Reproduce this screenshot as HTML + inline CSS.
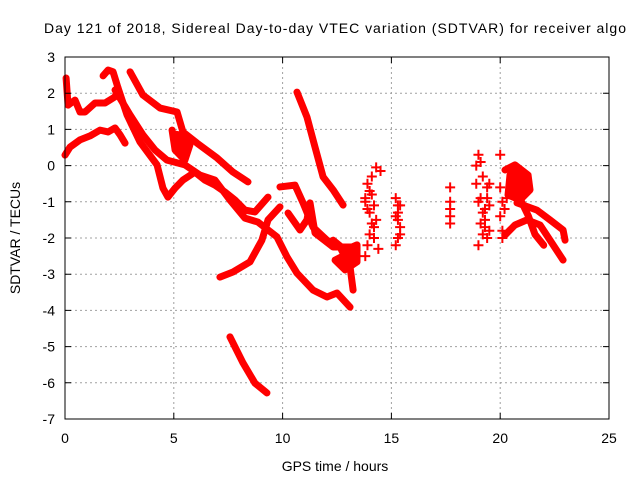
<!DOCTYPE html>
<html><head><meta charset="utf-8"><style>
body{margin:0;background:#fff;}
svg{display:block;font-family:"Liberation Sans",sans-serif;}
</style></head><body>
<svg id="chart" width="640" height="480" viewBox="0 0 640 480">
<rect width="640" height="480" fill="#fff"/>
<text x="335" y="33" text-anchor="middle" font-size="14" textLength="582">Day 121 of 2018, Sidereal Day-to-day VTEC variation (SDTVAR) for receiver algo</text>
<g id="grid"></g>
<g id="marks"></g>
<rect x="65" y="57" width="544" height="362" fill="none" stroke="#000" stroke-width="1"/>
<g id="axes"></g>
<text x="335" y="471" text-anchor="middle" font-size="14">GPS time / hours</text>
<text x="20" y="238" text-anchor="middle" font-size="14" transform="rotate(-90 20 238)">SDTVAR / TECUs</text>
</svg>
<script>
const xTicks=[0,5,10,15,20,25];
const yTicks=[-7,-6,-5,-4,-3,-2,-1,0,1,2,3];
const track1=[[0,0.29],[0.23,0.51],[0.69,0.71],[1.15,0.82],[1.61,0.98],[1.98,0.93],[2.3,1.04],[2.53,0.85],[2.76,0.62]];
const track2=[[0.05,2.42],[0.09,2.09],[0.14,1.67],[0.46,1.81],[0.69,1.48],[0.92,1.48],[1.38,1.73],[1.84,1.73],[2.3,1.9],[2.44,2.14],[2.21,2.59],[1.98,2.64],[1.75,2.48]];
const track3=[[2.44,2.14],[2.85,1.4],[3.45,0.65],[4.23,0.02],[4.5,-0.62],[4.73,-0.87],[5.06,-0.62],[5.42,-0.4],[5.97,-0.18],[6.43,-0.4],[6.89,-0.54],[7.35,-0.73],[7.81,-0.95],[8.27,-1.23],[8.73,-1.28],[9.33,-0.87]];
const track4=[[2.99,2.59],[3.58,1.95],[4.37,1.59],[5.15,1.48],[5.42,0.93],[6.07,0.62],[6.99,0.21],[7.72,-0.18],[8.41,-0.45]];
const track5=[[2.3,2.09],[2.99,1.4],[3.58,0.85],[4.14,0.43],[4.69,0.15],[5.51,0.02],[6.2,-0.26],[6.89,-0.4],[7.58,-0.95],[8.27,-1.45],[8.87,-1.56],[9.74,-1.97],[10.2,-2.52],[10.66,-2.97],[11.4,-3.44],[12.04,-3.63],[12.5,-3.52],[13.1,-3.91]];
const track6=[[4.92,0.98],[5.06,0.43],[5.51,0.15],[5.74,0.57],[5.42,0.93]];
const track7=[[7.12,-3.08],[7.72,-2.94],[8.5,-2.66],[9.05,-2.06],[9.33,-1.5],[9.88,-1.14]];
const track8=[[7.58,-4.73],[8.18,-5.45],[8.73,-6.01],[9.28,-6.28]];
const track9=[[10.66,2.03],[11.12,1.34],[11.49,0.51],[11.86,-0.31],[12.32,-0.67],[12.78,-1.09]];
const track10=[[9.88,-0.59],[10.57,-0.54],[10.94,-1.03],[11.4,-1.7],[12.04,-2.06],[12.64,-2.25],[13.1,-2.8],[13.24,-3.44]];
const track11=[[10.25,-1.31],[10.8,-1.78],[11.12,-1.5],[11.26,-1.03],[11.49,-1.86],[12.32,-2.25],[13.24,-2.25]];
const track12=[[12.32,-2.06],[12.87,-2.33],[13.42,-2.19],[13.42,-2.66],[12.87,-2.88],[12.41,-2.61],[12.87,-2.47]];
const track13=[[20.22,-0.12],[20.68,0.02],[21.28,-0.26],[21.37,-0.67],[20.91,-0.95],[20.36,-0.81],[20.45,-0.26],[20.9,-0.5]];
const track14=[[20.77,-1.03],[21.69,-1.23],[22.29,-1.5],[22.89,-1.78],[22.98,-2.06]];
const track15=[[20.22,-1.92],[20.68,-1.64],[21.23,-1.5],[21.83,-1.64],[22.29,-2.06],[22.89,-2.61]];
const track16=[[20.9,-0.9],[21.3,-1.4],[21.6,-1.9],[22.0,-2.2]];
const tracks=[track1,track2,track3,track4,track5,track6,track7,track8,track9,track10,track11,track12,track13,track14,track15,track16];
const filledTracks=[5,11,12];
const scatterHours=[13.8,13.9,14.0,14.1,14.2,14.3,13.9,14.0,14.2,14.4,14.5,13.8,14.1,14.3,13.9,14.0,14.2,13.8,14.1,15.2,15.3,15.4,15.3,15.2,15.4,15.3,15.2,15.4,15.3,17.7,17.7,17.7,17.7,17.7,18.9,19.0,19.1,19.2,19.3,19.4,19.5,19.0,19.2,19.4,18.9,19.3,19.5,19.1,19.0,19.2,19.4,19.5,19.1,19.3,20.0,20.1,20.0,20.1,20.0,20.2,20.1,20.3];
const scatterValues=[-1.0,-0.5,-1.3,-0.3,-1.7,-0.05,-2.2,-1.9,-1.1,-2.3,-0.15,-2.5,-0.8,-1.5,-1.2,-0.7,-2.0,-0.9,-1.6,-0.9,-1.3,-1.7,-2.0,-2.2,-1.1,-1.5,-1.4,-1.9,-1.1,-0.6,-1.0,-1.2,-1.6,-1.4,-0.5,0.3,-0.9,-1.3,-1.7,-2.0,-1.1,-2.2,-0.3,-0.6,0.0,-1.5,-1.8,0.1,-1.0,-1.9,-0.9,-0.5,-1.6,-1.2,0.3,-1.0,-1.4,-1.8,-0.6,-1.2,-2.0,-0.9];
const NS='http://www.w3.org/2000/svg';
const X=h=>65+h*21.76;
const Y=v=>57+(3-v)*36.2;
const grid=document.getElementById('grid'),axes=document.getElementById('axes'),marks=document.getElementById('marks');
function mk(tag,attrs,parent){const e=document.createElementNS(NS,tag);for(const k in attrs)e.setAttribute(k,attrs[k]);parent.appendChild(e);return e;}
xTicks.forEach(t=>{
  const x=X(t);
  if(t>0&&t<25){const g=mk('line',{x1:x,y1:57,x2:x,y2:419,stroke:'#a0a0a0','stroke-dasharray':'2,3'},grid);
  
  }
  const a=mk('path',{d:`M${x} 419v-6M${x} 57v6`,stroke:'#000'},axes);
  
  
  const l=mk('text',{x:x,y:443,'text-anchor':'middle','font-size':'14'},axes);l.textContent=t;
  
  
});
yTicks.forEach(t=>{
  const y=Y(t);
  if(t>-7&&t<3){const g=mk('line',{x1:65,y1:y,x2:609,y2:y,stroke:'#a0a0a0','stroke-dasharray':'2,3'},grid);
  
  }
  const a=mk('path',{d:`M65 ${y}h6M609 ${y}h-6`,stroke:'#000'},axes);
  
  
  const l=mk('text',{x:55,y:y+5,'text-anchor':'end','font-size':'14'},axes);l.textContent=t;
  
  
});
tracks.forEach((tr,i)=>{
  const p=mk('polyline',{points:tr.map(d=>X(d[0])+','+Y(d[1])).join(' '),fill:filledTracks.includes(i)?'#f00':'none',stroke:'#f00','stroke-width':'7','stroke-linejoin':'round','stroke-linecap':'round'},marks);
  
  
});
scatterHours.forEach((h,i)=>{
  const x=X(h),y=Y(scatterValues[i]);
  const p=mk('path',{d:`M${x-5} ${y}h10M${x} ${y-5}v10`,stroke:'#f00','stroke-width':'2'},marks);
  
  
});
</script>
</body></html>
